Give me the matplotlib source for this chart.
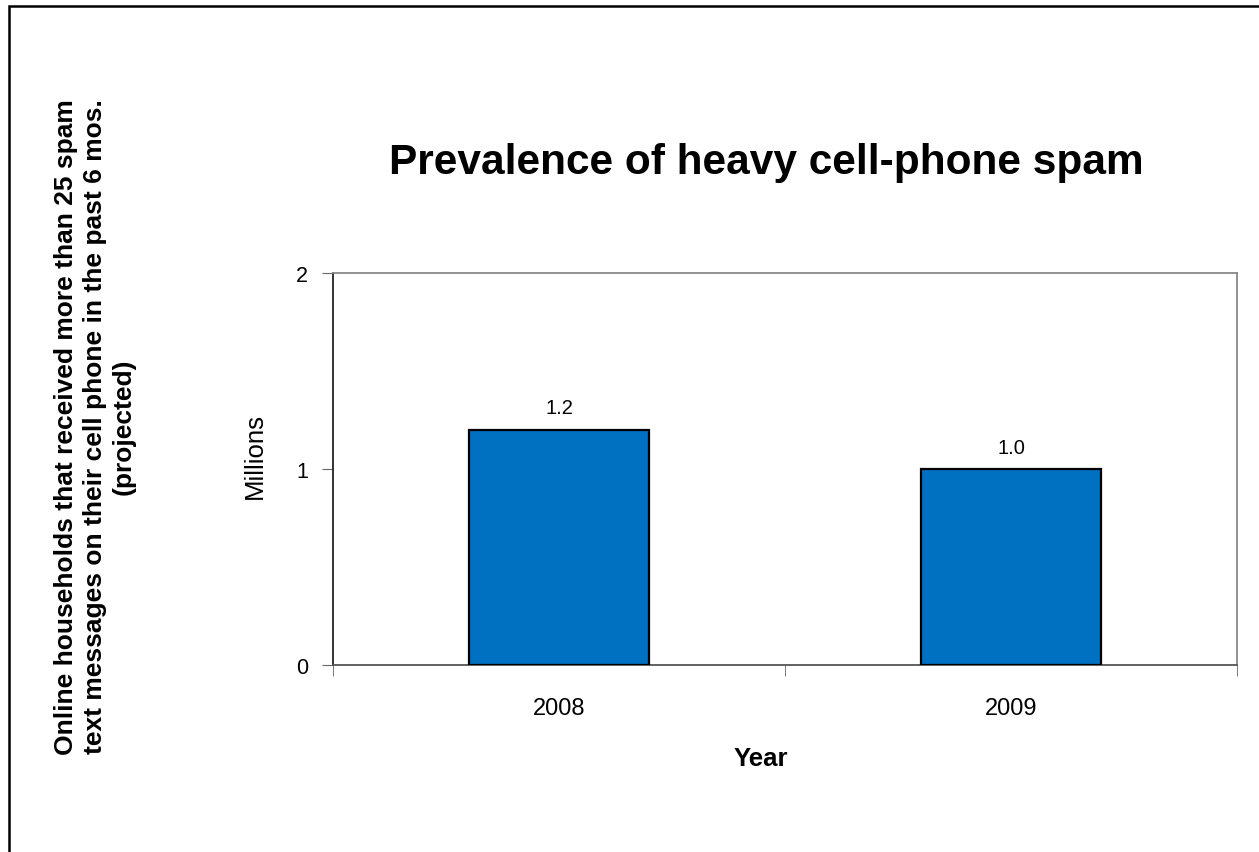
import matplotlib
matplotlib.use('Agg')
import matplotlib.pyplot as plt
from matplotlib.patches import Rectangle

plt.rcParams['font.family'] = ['Liberation Sans', 'DejaVu Sans']

years = ['2008', '2009']
households_millions = [1.2, 1.0]
value_labels = ['1.2', '1.0']
y_ticks = [0, 1, 2]

title = 'Prevalence of heavy cell-phone spam'
side_note = ('Online households that received more than 25 spam\n'
             'text messages on their cell phone in the past 6 mos.\n'
             '(projected)')

fig = plt.figure(figsize=(12.59, 8.53), dpi=100)
fig.patch.set_facecolor('white')

# outer chart frame (runs off the right and bottom edges)
fig.patches.append(Rectangle((9 / 1259, -0.05), 1.1, 1 - 7 / 853 + 0.05,
                             transform=fig.transFigure, fill=False,
                             edgecolor='black', lw=1.8))

ax = fig.add_axes([333 / 1259, 1 - 666 / 853, 904 / 1259, 392 / 853])
x = list(range(len(years)))
bars = ax.bar(x, households_millions, width=0.4, color='#0070C0',
              edgecolor='black', linewidth=1.6, zorder=3)
for b, lab in zip(bars, value_labels):
    ax.annotate(lab, (b.get_x() + b.get_width() / 2, b.get_height()),
                xytext=(0, 9), textcoords='offset points',
                ha='center', va='bottom', fontsize=14.5)

ax.set_xlim(-0.5, len(years) - 0.5)
ax.set_ylim(0, 2)
ax.set_yticks(y_ticks)
ax.set_yticklabels([str(t) for t in y_ticks], fontsize=15.5)
ax.set_xticks(x)
ax.set_xticklabels(years, fontsize=17)
ax.set_xticks([i - 0.5 for i in range(len(years) + 1)], minor=True)
ax.tick_params(axis='x', which='major', length=0, pad=23)
ax.tick_params(axis='x', which='minor', length=8, color='#666666', direction='out')
ax.tick_params(axis='y', length=8, color='#666666', direction='out', pad=10)

ax.spines['left'].set_color('#222222')
ax.spines['bottom'].set_color('#555555')
ax.spines['top'].set_color('#888888')
ax.spines['right'].set_color('#888888')
for s in ax.spines.values():
    s.set_linewidth(1.3)

fig.text(766 / 1259, 1 - 163 / 853, title, ha='center', va='center',
         fontsize=30.5, fontweight='bold')
fig.text(255 / 1259, 1 - 456 / 853, 'Millions', rotation=90,
         ha='center', va='center', fontsize=18.5)
fig.text(761 / 1259, 1 - 759 / 853, 'Year', ha='center', va='center',
         fontsize=18.5, fontweight='bold')
fig.text(95 / 1259, 1 - 427 / 853, side_note, rotation=90, ha='center',
         va='center', multialignment='center', fontsize=19,
         fontweight='bold', linespacing=1.25)

fig.savefig('out.png', dpi=100)
